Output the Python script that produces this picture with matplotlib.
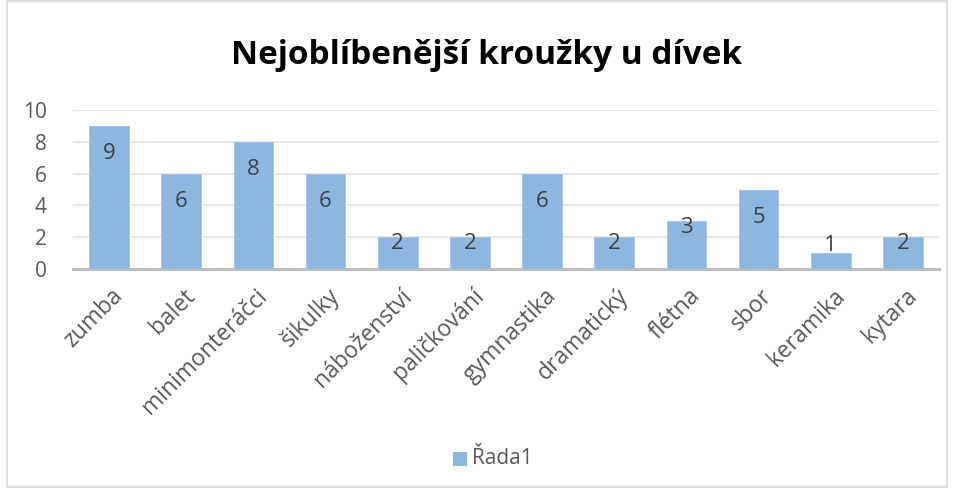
import matplotlib
matplotlib.use("Agg")
import matplotlib.pyplot as plt
from matplotlib.patches import Rectangle
from matplotlib.transforms import ScaledTranslation

categories = ["zumba", "balet", "minimonteráčci", "šikulky", "náboženství", "paličkování",
              "gymnastika", "dramatický", "flétna", "sbor", "keramika", "kytara"]
values = [9, 6, 8, 6, 2, 2, 6, 2, 3, 5, 1, 2]
yticks = [0, 2, 4, 6, 8, 10]
title = "Nejoblíbenější kroužky u dívek"
series_name = "Řada1"

plt.rcParams['font.family'] = ['Open Sans', 'DejaVu Sans']
W, H = 954, 488
fig = plt.figure(figsize=(W/100, H/100), dpi=100)
fig.patch.set_facecolor('white')

x0, x1 = 73, 939
y_top, y_bot = 110, 269
ax = fig.add_axes([x0/W, 1 - y_bot/H, (x1-x0)/W, (y_bot-y_top)/H])

bar_color = '#8db6e1'
n = len(categories)
xs = list(range(n))
ax.bar(xs, values, width=0.55, color=bar_color, edgecolor='#a3c4e8', linewidth=0.6, zorder=3)
ax.set_xlim(-0.5, n - 0.5)
ax.set_ylim(0, 10)
ax.set_yticks(yticks)
ax.set_yticklabels([str(t) for t in yticks], fontsize=15, color='#595959')
ax.yaxis.grid(True, color='#e3e3e3', linewidth=1.2, zorder=0)
ax.set_axisbelow(True)
for s in ['top', 'right', 'left']:
    ax.spines[s].set_visible(False)
ax.spines['bottom'].set_color('#bfbfbf')
ax.spines['bottom'].set_linewidth(2.2)
ax.tick_params(axis='both', length=0)
ax.tick_params(axis='y', pad=19)
ax.set_xticks(xs)
ax.set_xticklabels(categories, rotation=45, ha='right', rotation_mode='anchor',
                   fontsize=16.5, color='#595959')
ax.tick_params(axis='x', pad=11)
for lbl in ax.get_xticklabels():
    lbl.set_transform(lbl.get_transform() + ScaledTranslation(0.02, 0, fig.dpi_scale_trans))

for x, v in zip(xs, values):
    if v >= 4:
        yc = v - 1.75
    else:
        yc = max(v - 0.4, 1.5)
    ax.text(x, yc, str(v), ha='center', va='center', fontsize=16, color='#404040', zorder=4)

fig.text(487/W, 1 - 55/H, title, ha='center', va='center', fontsize=24, fontweight='bold', color='#000000')

fig.patches.append(Rectangle((453/W, 1 - 466/H), 14/W, 14/H, transform=fig.transFigure,
                             facecolor=bar_color, edgecolor='none'))
fig.text(472/W, 1 - 459/H, series_name, ha='left', va='center', fontsize=15, color='#595959')

fig.patches.append(Rectangle((7/W, 1/H), (W-14)/W, (H-2)/H, transform=fig.transFigure,
                             facecolor='none', edgecolor='#d9d9d9', linewidth=1.2))

fig.savefig("out.png", dpi=100, facecolor='white')
